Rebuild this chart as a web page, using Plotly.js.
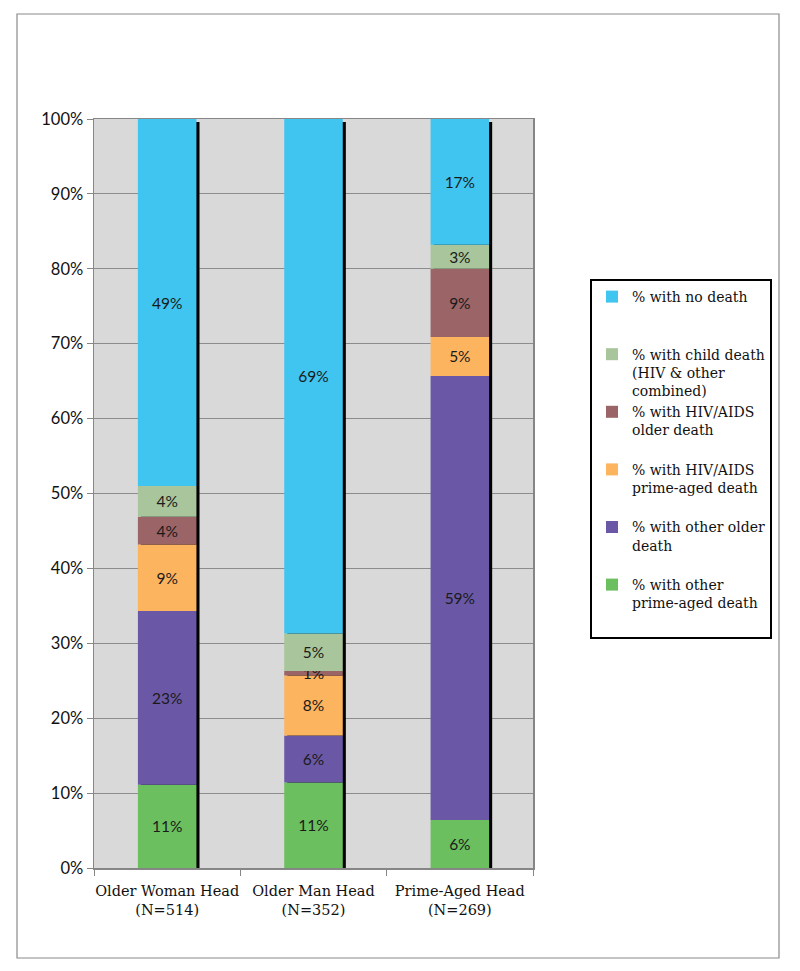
<!DOCTYPE html>
<html>
<head>
<meta charset="utf-8">
<script src="https://cdn.plot.ly/plotly-3.0.1.min.js"></script>
<style>html,body{margin:0;padding:0;background:#fff;}#chart{width:800px;height:971px;}</style>
</head>
<body>
<div id="chart"></div>
<script>
// Categories (household head type)
const categories = ["Older Woman Head<br>(N=514)", "Older Man Head<br>(N=352)", "Prime-Aged Head<br>(N=269)"];

// Series, bottom of stack to top (percent of households)
const otherPrimeAged = [11.1, 11.4, 6.4];
const otherOlder     = [23.2, 6.3, 59.3];
const hivPrimeAged   = [8.9, 8.0, 5.2];
const hivOlder       = [3.7, 0.6, 9.1];
const childDeath     = [4.1, 5.0, 3.2];
const noDeath        = [49.0, 68.7, 16.8];

const seriesNames = [
  "% with other<br>prime-aged death",
  "% with other older<br>death",
  "% with HIV/AIDS<br>prime-aged death",
  "% with HIV/AIDS<br>older death",
  "% with child death<br>(HIV & other<br>combined)",
  "% with no death"
];
const seriesValues = [otherPrimeAged, otherOlder, hivPrimeAged, hivOlder, childDeath, noDeath];
const seriesColors = ["#6BBF5E", "#6A58A6", "#FDB45F", "#9B6467", "#A8C59B", "#3FC5EF"];

const BAR_W = 0.4;
const sans = "Lato, 'Liberation Sans', sans-serif";
const serif = "'DejaVu Serif', serif";
const labelFont = {family: sans, size: 15.5, color: "#1a1a1a"};

// pad legend entries to 3 lines so spacing is uniform
function padLines(name) {
  const n = name.split("<br>").length;
  let s = name;
  for (let i = n; i < 3; i++) s += "<br> ";
  return s;
}

const traces = [];
// drop shadow behind each bar (black edge on the right)
const totals = categories.map((_, i) => seriesValues.reduce((a, s) => a + s[i], 0));
traces.push({
  type: "bar", x: categories, y: totals.map(t => t - 0.4), base: 0,
  width: BAR_W, offset: -BAR_W / 2 + 0.021,
  marker: {color: "#000000", line: {width: 0}},
  showlegend: false, hoverinfo: "skip"
});

const cum = categories.map(() => 0);
seriesValues.forEach((vals, k) => {
  const base = cum.slice();
  vals.forEach((v, i) => { cum[i] += v; });
  traces.push({
    type: "bar", name: padLines(seriesNames[k]), x: categories, y: vals, base: base,
    width: BAR_W, offset: -BAR_W / 2,
    marker: {color: seriesColors[k], line: {width: 0}},
    text: vals.map(v => Math.round(v) + "%"),
    textposition: "inside", insidetextanchor: "middle", textangle: 0,
    insidetextfont: labelFont, constraintext: "none",
    hoverinfo: "x+y"
  });
});

// plot area: x 94..533, y 119..868
const L = 94, R = 533, T = 119, B = 868, W = 800, H = 971;
const pw = R - L, ph = B - T;
const px = v => (v - L) / pw;
const py = v => (B - v) / ph;

const layout = {
  width: W, height: H,
  margin: {l: L, r: W - R, t: T, b: H - B, pad: 0},
  paper_bgcolor: "#ffffff",
  plot_bgcolor: "#D9D9D9",
  barmode: "overlay",
  showlegend: true,
  uniformtext: {mode: "show", minsize: 15.5},
  xaxis: {
    type: "category",
    showline: true, linecolor: "#868686", linewidth: 1.5, mirror: true,
    ticks: "outside", tickson: "boundaries", ticklen: 6, tickcolor: "#868686",
    showgrid: false, tickangle: 0, automargin: false, ticklabelstandoff: 9,
    tickfont: {family: serif, size: 14.5, color: "#111"},
    range: [-0.5, 2.5]
  },
  yaxis: {
    range: [0, 100], dtick: 10, ticksuffix: "%",
    showline: true, linecolor: "#868686", linewidth: 1.5, mirror: true,
    ticks: "outside", ticklen: 6, tickcolor: "#868686",
    showgrid: true, gridcolor: "#8C8C8C", gridwidth: 1,
    zeroline: false, automargin: false,
    tickfont: {family: sans, size: 16.5, color: "#111"}
  },
  legend: {
    x: px(590), y: py(279), xanchor: "left", yanchor: "top",
    traceorder: "reversed", valign: "top",
    bordercolor: "#000000", borderwidth: 2, bgcolor: "#ffffff",
    font: {family: serif, size: 14, color: "#111"},
    itemwidth: 30, tracegroupgap: 0
  },
  shapes: [{
    type: "rect", xref: "paper", yref: "paper",
    x0: px(17), x1: px(779), y0: py(958), y1: py(14),
    line: {color: "#8a8a8a", width: 1.2}, fillcolor: "rgba(0,0,0,0)", layer: "below"
  }]
};

Plotly.newPlot("chart", traces, layout, {displayModeBar: false, staticPlot: true});
</script>
</body>
</html>
